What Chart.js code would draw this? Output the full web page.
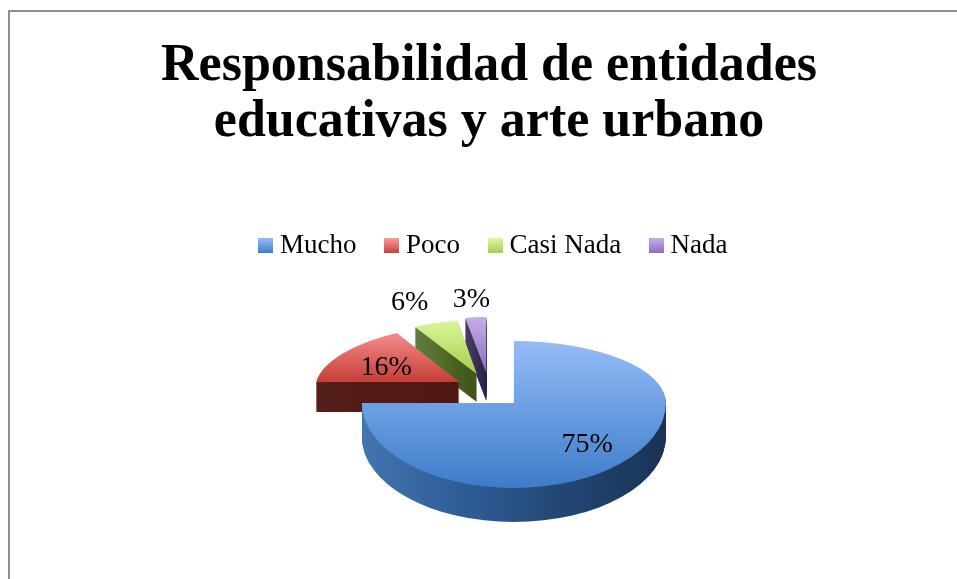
<!DOCTYPE html>
<html lang="es">
<head>
<meta charset="UTF-8">
<title>Responsabilidad de entidades educativas y arte urbano</title>
<script src="https://cdn.jsdelivr.net/npm/chart.js"></script>
<style>
    html, body { margin: 0; background: #fff; overflow: hidden; }
    #frame { position: absolute; left: 8px; top: 10px; width: 1000px; height: 700px; border: 2px solid #8e8e8e; box-sizing: border-box; }
    #pie { position: absolute; left: 0; top: 0; }
</style>
</head>
<body>
<div id="frame"></div>
<canvas id="pie" width="957" height="579"></canvas>
<script>
const titleLines = ['Responsabilidad de entidades', 'educativas y arte urbano'];
const categories = ['Mucho', 'Poco', 'Casi Nada', 'Nada'];
const values = [75, 16, 6, 3];
const percentLabels = ['75%', '16%', '6%', '3%'];

// colours: light and dark end of each slice, side wall left and right
const faceTop = ['#94bcf7', '#fc9a98', '#d9f99b', '#c5aee8'];
const faceBottom = ['#3d7cc9', '#c63e38', '#a8cc52', '#8d6cbc'];
const wallStops = [
    ['#4275b0', '#2e5d96', '#224673', '#1a3355'],
    ['#55201a', '#521a14', '#521a14', '#4e1812'],
    ['#5f7d42', '#56722f', '#48601f', '#3f5418'],
    ['#4a3f63', '#40355a', '#342a50', '#2a1f4b']
];
const serif = '"Liberation Serif", serif';
const RADIUS = 100;

// fake 3d: how the flat pie gets tilted, slice by slice
const tilt = [
    { a: 1.52, b: 0, c: 0, d: 0.62, dLow: 0.85 },
    { a: 1.43, b: 0, c: -0.167, d: 0.58 },
    { a: 1.22, b: 0.04, c: -0.038, d: 0.533 },
    { a: 1.12, b: 0, c: 0, d: 0.56 }
];
const depth = [34, 30, 28, 28];
const labelReach = [0.69, 0.58, 1.48, 1.4];
const labelNudge = [[-1, 0], [-5, 2], [-6, 4], [0, 5]];
const pieCentre = { x: 489.5, y: 390.5 };
const explode = 34.5;

function apexOf(arc) {
    const mid = (arc.startAngle + arc.endAngle) / 2;
    return { x: pieCentre.x + explode * Math.cos(mid), y: Math.round(pieCentre.y + explode * 0.5 * Math.sin(mid)), mid };
}

function paintArc(ctx, arc, fill, apex, t, d, dy) {
    ctx.save();
    ctx.translate(apex.x, apex.y + dy);
    ctx.transform(t.a, t.b, t.c, d, 0, 0);
    ctx.translate(-arc.x, -arc.y);
    const copy = Object.create(arc);
    copy.options = Object.assign({}, arc.options, { backgroundColor: fill, borderWidth: 0 });
    copy.draw(ctx);
    ctx.restore();
}

function wallGradient(ctx, arc, i) {
    const from = i === 0 ? -RADIUS : RADIUS * Math.min(Math.cos(arc.startAngle), Math.cos(arc.endAngle));
    const to = i === 0 ? RADIUS : 0;
    const g = ctx.createLinearGradient(arc.x + from, 0, arc.x + to, 0);
    wallStops[i].forEach((c, k) => g.addColorStop(k / 3, c));
    return g;
}

function drawSlice(ctx, chart, arc, i) {
    const t = tilt[i];
    const apex = apexOf(arc);
    const wall = wallGradient(ctx, arc, i);
    if (t.dLow) {
        // near half of the big slice is stretched more than the far half
        const mix = '#6fa1e4';
        const up = ctx.createLinearGradient(0, arc.y - RADIUS, 0, arc.y);
        up.addColorStop(0, faceTop[i]);
        up.addColorStop(1, mix);
        const low = ctx.createLinearGradient(0, arc.y, 0, arc.y + RADIUS);
        low.addColorStop(0, mix);
        low.addColorStop(1, faceBottom[i]);
        const part = (fill, d, dy, above) => {
            const edge = apex.y + dy;
            // the far half only shows a wall on its right, keep it off the cut edge
            const left = above && dy > 0 ? apex.x + 4 : 0;
            ctx.save();
            ctx.beginPath();
            if (above) ctx.rect(left, 0, chart.width, edge + 1);
            else ctx.rect(0, edge, chart.width, chart.height);
            ctx.clip();
            paintArc(ctx, arc, fill, apex, t, d, dy);
            ctx.restore();
        };
        for (let k = depth[i]; k > 0; k--) {
            part(wall, t.d, k, true);
            part(wall, t.dLow, k, false);
        }
        part(up, t.d, 0, true);
        part(low, t.dLow, 0, false);
    } else {
        for (let k = depth[i]; k > 0; k--) paintArc(ctx, arc, wall, apex, t, t.d, k);
        const g = ctx.createLinearGradient(0, arc.y - RADIUS, 0, arc.y);
        g.addColorStop(0, faceTop[i]);
        g.addColorStop(1, faceBottom[i]);
        paintArc(ctx, arc, g, apex, t, t.d, 0);
    }
}

function drawLabel(ctx, arc, i) {
    const t = tilt[i];
    const apex = apexOf(arc);
    const ux = Math.cos(apex.mid) * labelReach[i] * RADIUS;
    const uy = Math.sin(apex.mid) * labelReach[i] * RADIUS;
    const d = t.dLow && uy > 0 ? t.dLow : t.d;
    ctx.save();
    ctx.fillStyle = '#000';
    ctx.font = '28px ' + serif;
    ctx.textAlign = 'center';
    ctx.textBaseline = 'middle';
    ctx.fillText(percentLabels[i], apex.x + t.a * ux + t.c * uy + labelNudge[i][0], apex.y + t.b * ux + d * uy + labelNudge[i][1]);
    ctx.restore();
}

const tiltedPie = {
    id: 'tiltedPie',
    afterLayout(chart) {
        // swatches hang left of the legend's own box, push it back over
        chart.legend.left += 7.5;
        chart.legend.right += 7.5;
    },
    beforeDatasetsDraw(chart) {
        const ctx = chart.ctx;
        const arcs = chart.getDatasetMeta(0).data;
        for (let i = arcs.length - 1; i >= 0; i--) drawSlice(ctx, chart, arcs[i], i);
        arcs.forEach((arc, i) => drawLabel(ctx, arc, i));
        return false;
    }
};

function legendSwatch(i) {
    const c = document.createElement('canvas');
    c.width = 15;
    c.height = 15;
    const x = c.getContext('2d');
    const g = x.createLinearGradient(0, 0, 0, 15);
    g.addColorStop(0, faceTop[i]);
    g.addColorStop(1, faceBottom[i]);
    x.fillStyle = g;
    x.fillRect(0, 0, 15, 15);
    return c;
}

new Chart(document.getElementById('pie'), {
    type: 'pie',
    data: {
        labels: categories,
        datasets: [{ data: values, radius: RADIUS, backgroundColor: faceBottom, borderWidth: 0 }]
    },
    plugins: [tiltedPie],
    options: {
        responsive: false,
        animation: false,
        layout: { padding: { left: 21 } },
        plugins: {
            tooltip: { enabled: false },
            title: {
                display: true,
                text: titleLines,
                color: '#000',
                font: { family: serif, size: 52, weight: 'bold', lineHeight: 1.08 },
                padding: { top: 38, bottom: 47 }
            },
            legend: {
                position: 'top',
                labels: {
                    color: '#000',
                    font: { family: serif, size: 27 },
                    usePointStyle: true,
                    pointStyleWidth: 1,
                    padding: 35,
                    generateLabels: () => categories.map((text, i) => ({
                        text,
                        pointStyle: legendSwatch(i),
                        fontColor: '#000',
                        datasetIndex: 0,
                        index: i
                    }))
                }
            }
        }
    }
});
</script>
</body>
</html>
